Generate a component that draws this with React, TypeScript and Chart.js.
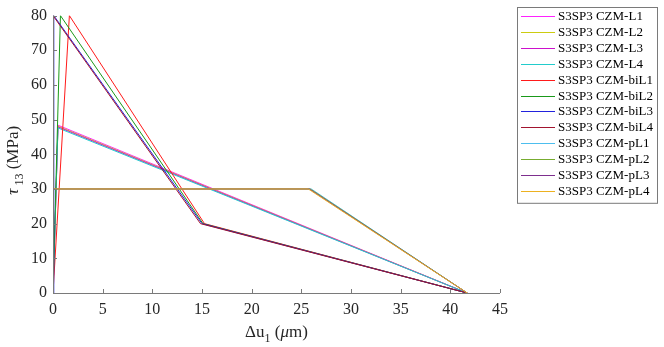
import React, { useEffect, useRef } from "react";
import { Chart, registerables } from "chart.js";

Chart.register(...registerables);

// ---- data ----
const seriesLabels = [
  "S3SP3 CZM-L1", "S3SP3 CZM-L2", "S3SP3 CZM-L3", "S3SP3 CZM-L4",
  "S3SP3 CZM-biL1", "S3SP3 CZM-biL2", "S3SP3 CZM-biL3", "S3SP3 CZM-biL4",
  "S3SP3 CZM-pL1", "S3SP3 CZM-pL2", "S3SP3 CZM-pL3", "S3SP3 CZM-pL4",
];
const seriesColors = [
  "#ff22ff", "#cccc11", "#cc11cc", "#22cccc",
  "#ff1a1a", "#1a991a", "#2222dd", "#a2142f",
  "#4dbeee", "#77ac30", "#7e2f8e", "#edb120",
];

const L1_x = [0, 0.5, 41.7];
const L1_y = [0, 48.4, 0];
const L2_x = [0, 0.5, 41.7];
const L2_y = [0, 48.1, 0];
const L3_x = [0, 0.5, 41.7];
const L3_y = [0, 47.9, 0];
const L4_x = [0, 0.5, 41.7];
const L4_y = [0, 47.6, 0];

const biL1_x = [0, 1.65, 15.25, 41.7];
const biL1_y = [0, 80, 20, 0];
const biL2_x = [0, 0.75, 15.1, 41.7];
const biL2_y = [0, 80, 20, 0];
const biL3_x = [0, 0.08, 15.0, 41.7];
const biL3_y = [0, 80, 20, 0];
const biL4_x = [0, 0.0, 14.85, 41.7];
const biL4_y = [0, 80, 20, 0];

const pL1_x = [0, 0.05, 26.0, 41.7];
const pL1_y = [0, 30, 30, 0];
const pL2_x = [0, 0.04, 25.9, 41.7];
const pL2_y = [0, 30, 30, 0];
const pL3_x = [0, 0.03, 25.8, 41.7];
const pL3_y = [0, 30, 30, 0];
const pL4_x = [0, 0.02, 25.7, 41.7];
const pL4_y = [0, 30, 30, 0];

const seriesX = [L1_x, L2_x, L3_x, L4_x, biL1_x, biL2_x, biL3_x, biL4_x, pL1_x, pL2_x, pL3_x, pL4_x];
const seriesY = [L1_y, L2_y, L3_y, L4_y, biL1_y, biL2_y, biL3_y, biL4_y, pL1_y, pL2_y, pL3_y, pL4_y];

const xMin = 0, xMax = 45, xStep = 5;
const yMin = 0, yMax = 80, yStep = 10;

const FONT = '"Liberation Serif", "DejaVu Serif", serif';
const AXIS_COLOR = "#7a7a7a";
const TEXT_COLOR = "#262626";

const decorPlugin = {
  id: "decor",
  afterDraw(chart: any) {
    const ctx = chart.ctx as CanvasRenderingContext2D;
    const { left, right, top, bottom } = chart.chartArea;
    const xs = chart.scales.x;
    const ys = chart.scales.y;
    ctx.save();
    // axes
    ctx.strokeStyle = AXIS_COLOR;
    ctx.lineWidth = 1;
    ctx.beginPath();
    ctx.moveTo(left + 0.5, top);
    ctx.lineTo(left + 0.5, bottom + 0.5);
    ctx.lineTo(right, bottom + 0.5);
    ctx.stroke();
    // inward ticks
    ctx.beginPath();
    for (let v = xMin; v <= xMax; v += xStep) {
      const px = Math.round(xs.getPixelForValue(v)) + 0.5;
      ctx.moveTo(px, bottom);
      ctx.lineTo(px, bottom - 4);
    }
    for (let v = yMin; v <= yMax; v += yStep) {
      const py = Math.round(ys.getPixelForValue(v)) + 0.5;
      ctx.moveTo(left, py);
      ctx.lineTo(left + 4, py);
    }
    ctx.stroke();

    // x title: Δu_1 (μm)
    const big = 17, small = 12;
    const segsX: [string, number, boolean, number][] = [
      ["\u0394u", big, false, 0],
      ["1", small, false, 5],
      [" (", big, false, 0],
      ["\u03bc", big, true, 0],
      ["m)", big, false, 0],
    ];
    const fontOf = (s: number, it: boolean) => `${it ? "italic " : ""}${s}px ${FONT}`;
    let total = 0;
    for (const [t, s, it] of segsX) { ctx.font = fontOf(s, it); total += ctx.measureText(t).width; }
    let cx = (left + right) / 2 - total / 2;
    const by = 337;
    ctx.fillStyle = TEXT_COLOR;
    ctx.textBaseline = "alphabetic";
    ctx.textAlign = "left";
    for (const [t, s, it, dy] of segsX) {
      ctx.font = fontOf(s, it);
      ctx.fillText(t, cx, by + dy);
      cx += ctx.measureText(t).width;
    }

    // y title: τ_13 (MPa)
    const segsY: [string, number, boolean, number][] = [
      ["\u03c4", big, true, 0],
      [" 13", small, false, 5],
      [" (MPa)", big, false, 0],
    ];
    total = 0;
    for (const [t, s, it] of segsY) { ctx.font = fontOf(s, it); total += ctx.measureText(t).width; }
    ctx.translate(18, (top + bottom) / 2 + 6);
    ctx.rotate(-Math.PI / 2);
    let cy = -total / 2;
    for (const [t, s, it, dy] of segsY) {
      ctx.font = fontOf(s, it);
      ctx.fillText(t, cy, dy);
      cy += ctx.measureText(t).width;
    }
    ctx.restore();

    // legend
    ctx.save();
    const lx = 517.5, ly = 7.5, lw = 140, rowH = 15.9;
    const lh = rowH * seriesLabels.length + 5;
    ctx.fillStyle = "#ffffff";
    ctx.fillRect(lx, ly, lw, lh);
    ctx.strokeStyle = AXIS_COLOR;
    ctx.lineWidth = 1;
    ctx.strokeRect(lx, ly, lw, lh);
    ctx.font = `13px ${FONT}`;
    ctx.textBaseline = "middle";
    ctx.textAlign = "left";
    seriesLabels.forEach((lab, i) => {
      const yy = Math.round(ly + 8.5 + i * rowH) + 0.5;
      ctx.strokeStyle = seriesColors[i];
      ctx.lineWidth = 1;
      ctx.beginPath();
      ctx.moveTo(521, yy);
      ctx.lineTo(555, yy);
      ctx.stroke();
      ctx.fillStyle = "#000000";
      ctx.fillText(lab, 558, yy + 0.5);
    });
    ctx.restore();
  },
};

export default function App() {
  const ref = useRef<HTMLCanvasElement | null>(null);
  useEffect(() => {
    let chart: any = null;
    let cancelled = false;
    const build = () => {
      if (cancelled || !ref.current) return;
      const datasets = seriesLabels.map((label, i) => ({
        label,
        data: seriesX[i].map((x, j) => ({ x, y: seriesY[i][j] })),
        borderColor: seriesColors[i],
        backgroundColor: seriesColors[i],
        borderWidth: 1,
        pointRadius: 0,
        showLine: true,
        fill: false,
        tension: 0,
        order: seriesLabels.length - i,
      }));
      const tickFont = { family: FONT, size: 16 };
      chart = new Chart(ref.current, {
        type: "scatter",
        data: { datasets },
        plugins: [decorPlugin],
        options: {
          animation: false,
          responsive: false,
          maintainAspectRatio: false,
          layout: { padding: { top: 7, right: 164, left: 0, bottom: 0 } },
          plugins: { legend: { display: false }, tooltip: { enabled: false } },
          scales: {
            x: {
              type: "linear",
              min: xMin,
              max: xMax,
              ticks: { stepSize: xStep, font: tickFont, color: TEXT_COLOR, padding: 7, maxRotation: 0 },
              grid: { display: false, drawTicks: false },
              border: { display: false },
              afterFit: (s: any) => { s.height = 54; },
            },
            y: {
              type: "linear",
              min: yMin,
              max: yMax,
              ticks: { stepSize: yStep, font: tickFont, color: TEXT_COLOR, padding: 6 },
              grid: { display: false, drawTicks: false },
              border: { display: false },
              afterFit: (s: any) => { s.width = 53; },
            },
          },
        } as any,
      });
    };
    const fonts = (document as any).fonts;
    if (fonts && fonts.load) {
      Promise.all([
        fonts.load('16px "Liberation Serif"'),
        fonts.load('italic 16px "Liberation Serif"'),
      ]).then(build, build);
    } else {
      build();
    }
    return () => {
      cancelled = true;
      if (chart) chart.destroy();
    };
  }, []);
  return (
    <div style={{ position: "absolute", left: 0, top: 0, width: 664, height: 347, background: "#fff" }}>
      <canvas ref={ref} width={664} height={347} style={{ display: "block", width: 664, height: 347 }} />
    </div>
  );
}
